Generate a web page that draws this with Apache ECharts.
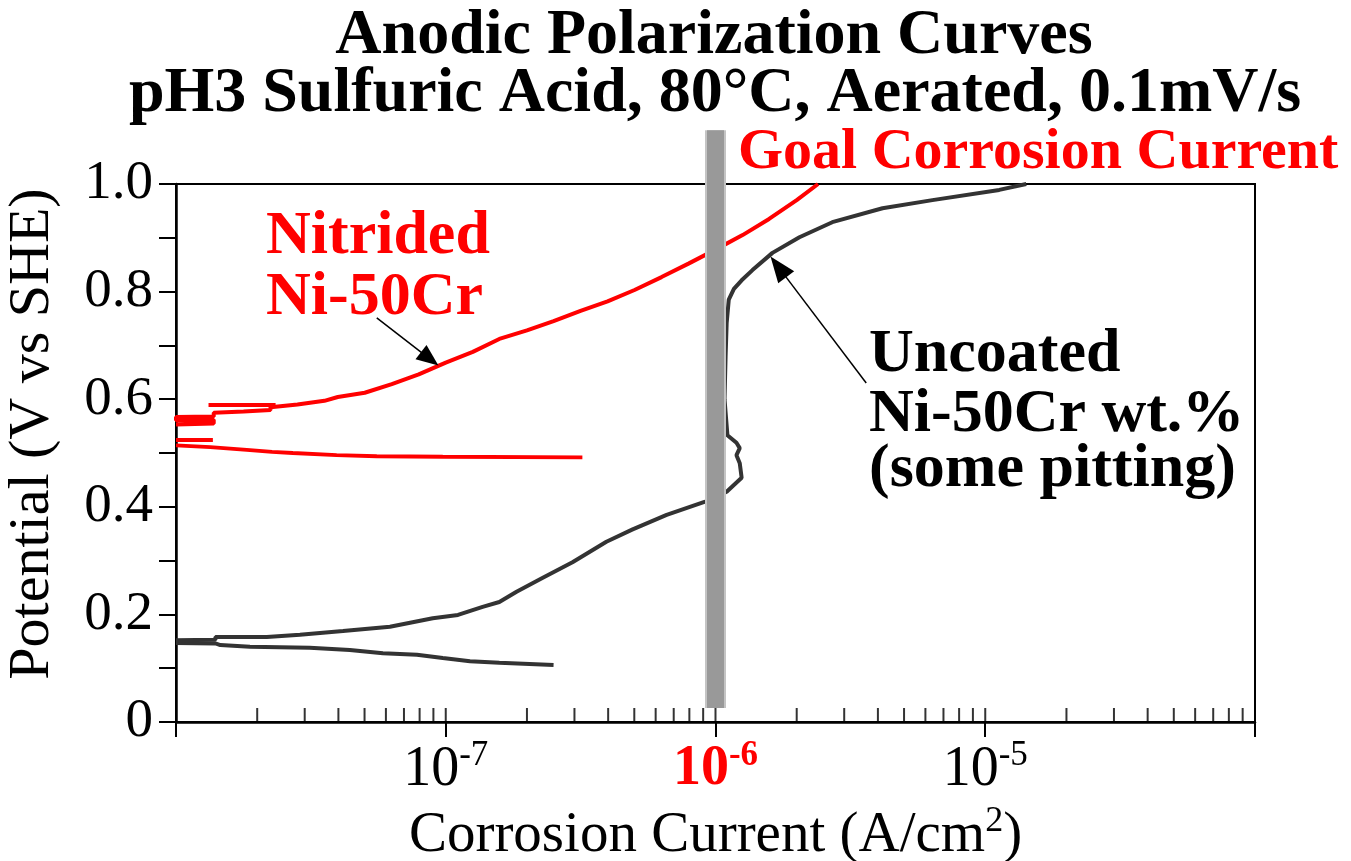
<!DOCTYPE html>
<html><head><meta charset="utf-8">
<script src="https://cdn.jsdelivr.net/npm/echarts@6/dist/echarts.min.js"></script>
<style>html,body{margin:0;padding:0;background:#fff}#c{width:1351px;height:861px}</style>
</head><body><div id="c"></div><script>
// ---- Data (current in A/cm^2, potential in V vs SHE) ----
const nitridedCathodic = [
  [3.21e-7, 0.492], [9.75e-8, 0.493], [5.55e-8, 0.494], [3.94e-8, 0.496],
  [2.71e-8, 0.500], [2.27e-8, 0.502], [1.83e-8, 0.506], [1.34e-8, 0.511], [1.0e-8, 0.514]
];
const nitridedStubLow = [[1.0e-8, 0.524], [1.37e-8, 0.524]];
const nitridedStubHigh = [[1.32e-8, 0.589], [2.34e-8, 0.589]];
const nitridedAnodic = [
  [1.0e-8, 0.553], [1.38e-8, 0.555], [1.38e-8, 0.562], [1.0e-8, 0.561], [1.0e-8, 0.567],
  [1.38e-8, 0.568], [1.38e-8, 0.575], [1.78e-8, 0.577], [2.24e-8, 0.580], [2.24e-8, 0.585],
  [2.82e-8, 0.590], [3.55e-8, 0.597], [3.98e-8, 0.604], [5.01e-8, 0.612], [6.31e-8, 0.628],
  [7.94e-8, 0.646], [1.0e-7, 0.668], [1.26e-7, 0.688], [1.58e-7, 0.712], [2.0e-7, 0.728],
  [2.51e-7, 0.745], [3.16e-7, 0.764], [3.98e-7, 0.782], [5.01e-7, 0.803], [6.31e-7, 0.827],
  [7.94e-7, 0.852], [1.0e-6, 0.878], [1.26e-6, 0.905], [1.58e-6, 0.935], [2.0e-6, 0.970],
  [2.4e-6, 1.0]
];
const uncoatedCathodic = [
  [2.51e-7, 0.106], [1.58e-7, 0.110], [1.23e-7, 0.113], [9.75e-8, 0.119], [7.82e-8, 0.125],
  [5.85e-8, 0.128], [4.41e-8, 0.134], [3.13e-8, 0.138], [1.88e-8, 0.140], [1.46e-8, 0.143],
  [1.4e-8, 0.146], [1.0e-8, 0.147]
];
const uncoatedAnodic = [
  [1.0e-8, 0.152], [1.4e-8, 0.153], [1.4e-8, 0.158], [2.17e-8, 0.158], [2.88e-8, 0.162],
  [4.16e-8, 0.169], [6.21e-8, 0.177], [8.95e-8, 0.193], [1.11e-7, 0.199], [1.37e-7, 0.214],
  [1.58e-7, 0.223], [1.83e-7, 0.242], [2.29e-7, 0.268], [2.95e-7, 0.297], [3.94e-7, 0.335],
  [4.93e-7, 0.358], [6.59e-7, 0.385], [9.1e-7, 0.409], [1.0e-6, 0.418], [1.10e-6, 0.428],
  [1.25e-6, 0.454], [1.23e-6, 0.481], [1.196e-6, 0.496], [1.23e-6, 0.509], [1.196e-6, 0.519],
  [1.107e-6, 0.533], [1.08e-6, 0.60], [1.09e-6, 0.68], [1.10e-6, 0.742], [1.12e-6, 0.785],
  [1.17e-6, 0.805], [1.25e-6, 0.821], [1.371e-6, 0.840], [1.626e-6, 0.872], [2.047e-6, 0.901],
  [2.71e-6, 0.929], [4.16e-6, 0.955], [6.37e-6, 0.970], [1.127e-5, 0.989], [1.419e-5, 1.0]
];
const goalCurrent = 1e-6;
const xMinorTicks = [
  2e-8, 3e-8, 4e-8, 5e-8, 6e-8, 7e-8, 8e-8, 9e-8, 1e-7,
  2e-7, 3e-7, 4e-7, 5e-7, 6e-7, 7e-7, 8e-7, 9e-7, 1e-6,
  2e-6, 3e-6, 4e-6, 5e-6, 6e-6, 7e-6, 8e-6, 9e-6, 1e-5,
  2e-5, 3e-5, 4e-5, 5e-5, 6e-5, 7e-5, 8e-5, 9e-5
];
const xLabelExponents = [-7, -6, -5];

const SERIF = '"Liberation Serif", "Times New Roman", serif';
const chart = echarts.init(document.getElementById('c'), null, {renderer: 'canvas'});

function lineSeries(name, data, color, width) {
  return {
    name: name, type: 'line', data: data, symbol: 'none', showSymbol: false,
    lineStyle: {color: color, width: width}, silent: true, z: 3, animation: false
  };
}

const option = {
  animation: false,
  backgroundColor: '#fff',
  grid: {left: 176, right: 96, top: 184, bottom: 139, containLabel: false, outerBoundsMode: 'none',
    show: true, borderColor: '#000', borderWidth: 2, backgroundColor: 'transparent'},
  xAxis: {
    type: 'log', logBase: 10, min: 1e-8, max: 1e-4,
    axisLine: {lineStyle: {color: '#000', width: 2.5}},
    axisTick: {show: true, inside: false, length: 15, lineStyle: {color: '#000', width: 2}},
    splitLine: {show: false},
    axisLabel: {
      margin: 16,
      formatter: function (v) {
        const e = Math.round(Math.log10(v));
        if (xLabelExponents.indexOf(e) < 0) return '';
        if (e === Math.round(Math.log10(goalCurrent))) return '{n6|10}{s6|' + e + '}';
        return '{n|10}{s|' + e + '}';
      },
      rich: {
        n: {fontFamily: SERIF, fontSize: 56, color: '#000', verticalAlign: 'bottom'},
        s: {fontFamily: SERIF, fontSize: 35, color: '#000', verticalAlign: 'bottom', padding: [0, 0, 25, 0]},
        n6: {fontFamily: SERIF, fontSize: 56, fontWeight: 'bold', color: '#ff0000', verticalAlign: 'bottom'},
        s6: {fontFamily: SERIF, fontSize: 35, fontWeight: 'bold', color: '#ff0000', verticalAlign: 'bottom', padding: [0, 0, 25, 0]}
      }
    },
    name: '{a|Corrosion Current (A/cm}{s|2}{a|)}',
    nameLocation: 'middle', nameGap: 82,
    nameTextStyle: {
      rich: {
        a: {fontFamily: SERIF, fontSize: 57, color: '#000', verticalAlign: 'bottom'},
        s: {fontFamily: SERIF, fontSize: 36, color: '#000', verticalAlign: 'bottom', padding: [0, 0, 25, 0]}
      }
    }
  },
  yAxis: {
    type: 'value', min: 0, max: 1, interval: 0.1,
    axisLine: {lineStyle: {color: '#000', width: 2.5}},
    axisTick: {show: true, inside: false, length: 17, lineStyle: {color: '#000', width: 2}},
    splitLine: {show: false},
    axisLabel: {
      margin: 23, fontFamily: SERIF, fontSize: 55, color: '#000',
      formatter: function (v) {
        const k = Math.round(v * 10);
        if (k % 2 !== 0) return '';
        return k === 0 ? '0' : (k / 10).toFixed(1);
      }
    },
    name: 'Potential (V vs SHE)', nameLocation: 'middle', nameGap: 114, nameRotate: 90,
    nameTextStyle: {fontFamily: SERIF, fontSize: 58, color: '#000', padding: [0, 0, 0, 38]}
  },
  series: [
    lineSeries('Nitrided cathodic', nitridedCathodic, '#ff0000', 3.8),
    lineSeries('Nitrided stub low', nitridedStubLow, '#ff0000', 4),
    lineSeries('Nitrided stub high', nitridedStubHigh, '#ff0000', 4),
    lineSeries('Nitrided anodic', nitridedAnodic, '#ff0000', 4),
    lineSeries('Uncoated cathodic', uncoatedCathodic, '#333333', 4),
    lineSeries('Uncoated anodic', uncoatedAnodic, '#333333', 4),
    {
      name: 'Goal edge', type: 'line', data: [[goalCurrent, 0.026], [goalCurrent, 1.1]],
      symbol: 'none', clip: false, silent: true, z: 6,
      lineStyle: {color: '#c4c4c4', width: 21, cap: 'butt'}
    },
    {
      name: 'Goal bar', type: 'line', data: [[goalCurrent, 0.026], [goalCurrent, 1.1]],
      symbol: 'none', clip: false, silent: true, z: 7,
      lineStyle: {color: '#999999', width: 17, cap: 'butt'}
    },
    {
      name: 'x minor ticks', type: 'scatter', data: xMinorTicks.map(v => [v, 0]),
      symbol: 'rect', symbolSize: [2, 14], symbolOffset: [0, -7], clip: false, silent: true, z: 8,
      itemStyle: {color: '#000'}
    },
    {
      name: 'annotations', type: 'line', data: [], silent: true, z: 9,
      markLine: {
        silent: true, animation: false, precision: 10,
        label: {show: false}, emphasis: {disabled: true},
        data: [
          [
            {coord: [9.75e-7, 1.0446], symbol: 'none', lineStyle: {color: '#000', width: 10, type: 'solid'}},
            {coord: [3.85e-7, 1.0446], symbol: 'triangle', symbolSize: [38, 38]}
          ],
          [
            {coord: [5.55e-8, 0.751], symbol: 'none', lineStyle: {color: '#000', width: 1.5, type: 'solid'}},
            {coord: [8.72e-8, 0.675], symbol: 'triangle', symbolSize: [18, 22]}
          ],
          [
            {coord: [3.62e-6, 0.630], symbol: 'none', lineStyle: {color: '#000', width: 1.5, type: 'solid'}},
            {coord: [1.71e-6, 0.846], symbol: 'triangle', symbolSize: [20, 26]}
          ]
        ],
        itemStyle: {color: '#000'}
      }
    }
  ],
  graphic: [
    {type: 'text', x: 714, y: 36, z: 20, style: {text: 'Anodic Polarization Curves', font: 'bold 64px ' + SERIF, fill: '#000', align: 'center', verticalAlign: 'middle'}},
    {type: 'text', x: 715, y: 94, z: 20, style: {text: 'pH3 Sulfuric Acid, 80°C, Aerated, 0.1mV/s', font: 'bold 64px ' + SERIF, fill: '#000', align: 'center', verticalAlign: 'middle'}},
    {type: 'text', x: 738, y: 153, z: 20, style: {text: 'Goal Corrosion Current', font: 'bold 58px ' + SERIF, fill: '#ff0000', align: 'left', verticalAlign: 'middle'}},
    {type: 'text', x: 266, y: 237, z: 20, style: {text: 'Nitrided', font: 'bold 62px ' + SERIF, fill: '#ff0000', align: 'left', verticalAlign: 'middle'}},
    {type: 'text', x: 266, y: 298, z: 20, style: {text: 'Ni-50Cr', font: 'bold 62px ' + SERIF, fill: '#ff0000', align: 'left', verticalAlign: 'middle'}},
    {type: 'text', x: 869, y: 355, z: 20, style: {text: 'Uncoated', font: 'bold 62px ' + SERIF, fill: '#000', align: 'left', verticalAlign: 'middle'}},
    {type: 'text', x: 869, y: 415, z: 20, style: {text: 'Ni-50Cr wt.%', font: 'bold 62px ' + SERIF, fill: '#000', align: 'left', verticalAlign: 'middle'}},
    {type: 'text', x: 869, y: 470, z: 20, style: {text: '(some pitting)', font: 'bold 62px ' + SERIF, fill: '#000', align: 'left', verticalAlign: 'middle'}}
  ]
};
chart.setOption(option);
</script></body></html>
